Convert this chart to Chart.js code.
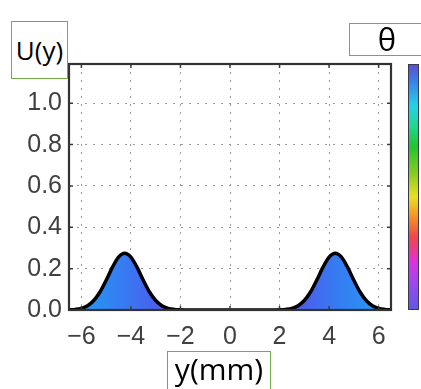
<!DOCTYPE html>
<html>
<head>
<meta charset="utf-8">
<script src="https://cdn.jsdelivr.net/npm/chart.js@4/dist/chart.umd.min.js"></script>
<style>
  html, body { margin: 0; padding: 0; background: #fff; }
  #wrap { position: relative; width: 421px; height: 389px; overflow: hidden; }
  canvas { position: absolute; left: 0; top: 0; }
  .box { position: absolute; border: 1.5px solid #70ad47; box-sizing: border-box; background: #fff;
         font-family: "Open Sans", sans-serif; color: #000; display: flex; align-items: center; justify-content: center; line-height: 1; }
  #colorbar { position: absolute; left: 408px; top: 64px; width: 11px; height: 246px; box-sizing: border-box;
              border: 1px solid #3a3a4a;
              background: linear-gradient(to bottom,
                #5a4fd0 0%, #3b7ee8 6.5%, #22d2e8 16.7%, #20d890 24.8%, #22c52a 33.7%, #8ccc20 45%,
                #e8e020 54%, #f59a22 61.4%, #ee4848 70.3%, #ec3a8a 75.6%, #e030e0 80.5%, #9a48f0 89.8%, #6058e0 100%); }
</style>
</head>
<body>
<div id="wrap">
  <canvas id="c" width="421" height="389"></canvas>
  <div id="colorbar"></div>
  <div class="box" style="left:11px;top:21px;width:57px;height:58px;font-size:26px;">U(y)</div>
  <div class="box" style="left:349px;top:23px;width:76px;height:33px;font-size:31px;">θ</div>
  <div class="box" style="left:167px;top:351px;width:104px;height:44px;font-size:30px;align-items:flex-start;padding-top:2px;">y(mm)</div>
</div>
<script>
// y positions (mm)
const yPositions = [
  -6.5, -6.25, -6.0, -5.75, -5.5, -5.25, -5.0, -4.75, -4.5, -4.25, -4.0, -3.75, -3.5, -3.25, -3.0, -2.75, -2.5, -2.25,
  -2.0, -1.75, -1.5, -1.25, -1.0, -0.75, -0.5, -0.25, 0.0, 0.25, 0.5, 0.75, 1.0, 1.25, 1.5, 1.75, 2.0,
  2.25, 2.5, 2.75, 3.0, 3.25, 3.5, 3.75, 4.0, 4.25, 4.5, 4.75, 5.0, 5.25, 5.5, 5.75, 6.0, 6.25, 6.5
];
// U(y) values
const uValues = [
  0.001, 0.003, 0.008, 0.021, 0.046, 0.087, 0.144, 0.206, 0.256, 0.275, 0.256, 0.206, 0.144, 0.087, 0.046, 0.021, 0.008, 0.003,
  0.001, 0, 0, 0, 0, 0, 0, 0, 0, 0, 0, 0, 0, 0, 0, 0, 0.001,
  0.003, 0.008, 0.021, 0.046, 0.087, 0.144, 0.206, 0.256, 0.275, 0.256, 0.206, 0.144, 0.087, 0.046, 0.021, 0.008, 0.003, 0.001
];
// tick labels
const xTickValues = [-6, -4, -2, 0, 2, 4, 6];
const xTickLabels = ['\u22126', '\u22124', '\u22122', '0', '2', '4', '6'];
const yTickValues = [0, 0.2, 0.4, 0.6, 0.8, 1.0];
const yTickLabels = ['0.0', '0.2', '0.4', '0.6', '0.8', '1.0'];
// fill gradient stops (position in mm, colour)
const fillStopPos = [-6.5, -5.5, -4.25, -3.0, 3.0, 4.25, 5.5, 6.5];
const fillStopCol = ['#2498f6', '#2a90f4', '#377af1', '#4a60ee', '#4a60ee', '#377af1', '#2a90f4', '#2498f6'];

const points = yPositions.map((x, i) => ({ x: x, y: uValues[i] }));

const framePlugin = {
  id: 'frame',
  afterDraw(chart) {
    const { ctx, chartArea: a, scales } = chart;
    ctx.save();
    ctx.strokeStyle = '#3c3c3c';
    ctx.lineWidth = 1.5;
    const L = 4;
    xTickValues.forEach(v => {
      const px = scales.x.getPixelForValue(v);
      ctx.beginPath();
      ctx.moveTo(px, a.top); ctx.lineTo(px, a.top + L);
      ctx.moveTo(px, a.bottom); ctx.lineTo(px, a.bottom - L);
      ctx.stroke();
    });
    yTickValues.forEach(v => {
      const py = scales.y.getPixelForValue(v);
      ctx.beginPath();
      ctx.moveTo(a.left, py); ctx.lineTo(a.left + L, py);
      ctx.moveTo(a.right, py); ctx.lineTo(a.right - L, py);
      ctx.stroke();
    });
    ctx.strokeStyle = '#333';
    ctx.lineWidth = 2.2;
    ctx.strokeRect(a.left, a.top, a.right - a.left, a.bottom - a.top);
    ctx.restore();
  }
};

new Chart(document.getElementById('c'), {
  type: 'line',
  data: {
    datasets: [{
      data: points,
      borderColor: '#000',
      borderWidth: 3.5,
      pointRadius: 0,
      cubicInterpolationMode: 'monotone',
      fill: 'origin',
      backgroundColor: (c) => {
        const chart = c.chart;
        const a = chart.chartArea;
        if (!a) return '#3a7af2';
        const xs = chart.scales.x;
        const g = chart.ctx.createLinearGradient(a.left, 0, a.right, 0);
        fillStopPos.forEach((p, i) => {
          const f = (xs.getPixelForValue(p) - a.left) / (a.right - a.left);
          g.addColorStop(Math.min(1, Math.max(0, f)), fillStopCol[i]);
        });
        return g;
      }
    }]
  },
  options: {
    responsive: false,
    devicePixelRatio: 1,
    animation: false,
    layout: { padding: { left: 0, top: 64, right: 30, bottom: 0 } },
    plugins: { legend: { display: false }, tooltip: { enabled: false } },
    scales: {
      x: {
        type: 'linear',
        min: -6.5,
        max: 6.5,
        afterBuildTicks: (s) => { s.ticks = xTickValues.map(v => ({ value: v })); },
        afterFit: (s) => { s.height = 79; },
        border: { display: false, dash: [2, 6] },
        grid: { color: '#9a9a9a', lineWidth: 1, drawTicks: false },
        ticks: {
          padding: 12,
          color: '#404040',
          font: { family: 'Liberation Sans', size: 25 },
          maxRotation: 0,
          callback: (v) => { const i = xTickValues.indexOf(v); return i >= 0 ? xTickLabels[i] : ''; }
        }
      },
      y: {
        type: 'linear',
        min: 0,
        max: 1.19,
        afterBuildTicks: (s) => { s.ticks = yTickValues.map(v => ({ value: v })); },
        afterFit: (s) => { s.width = 69; },
        border: { display: false, dash: [2, 6] },
        grid: { color: '#9a9a9a', lineWidth: 1, drawTicks: false },
        ticks: {
          padding: 7,
          color: '#404040',
          font: { family: 'Liberation Sans', size: 25 },
          callback: (v) => { const i = yTickValues.findIndex(t => Math.abs(t - v) < 1e-9); return i >= 0 ? yTickLabels[i] : ''; }
        }
      }
    }
  },
  plugins: [framePlugin]
});
</script>
</body>
</html>
